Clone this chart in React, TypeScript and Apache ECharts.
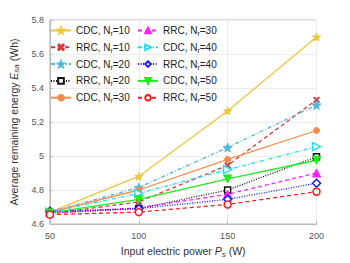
import React, { useEffect, useRef } from "react";
import * as echarts from "echarts";

const xValues = [50, 100, 150, 200];
const cdc10 = [4.67, 4.88, 5.265, 5.7];
const rrc10 = [4.66, 4.73, 4.945, 5.33];
const cdc20 = [4.67, 4.815, 5.05, 5.3];
const rrc20 = [4.665, 4.69, 4.8, 4.995];
const cdc30 = [4.67, 4.8, 4.98, 5.15];
const rrc30 = [4.665, 4.695, 4.775, 4.9];
const cdc40 = [4.67, 4.78, 4.92, 5.055];
const rrc40 = [4.675, 4.69, 4.745, 4.84];
const cdc50 = [4.665, 4.745, 4.865, 4.975];
const rrc50 = [4.655, 4.67, 4.715, 4.79];
const yTicks = ["4.6", "4.8", "5", "5.2", "5.4", "5.6", "5.8"];

const STAR =
  "path://M50,0 L61,35 L98,35 L68,57 L79,91 L50,70 L21,91 L32,57 L2,35 L39,35 Z";
const XMARK =
  "path://M0,15 L15,0 L50,35 L85,0 L100,15 L65,50 L100,85 L85,100 L50,65 L15,100 L0,85 L35,50 Z";

type Def = {
  name: string;
  data: number[];
  color: string;
  type: "solid" | "dashed" | "dotted" | number[];
  symbol: string;
  size: number;
  rotate?: number;
  empty?: boolean;
};

const defs: Def[] = [
  { name: "CDC|10", data: cdc10, color: "#EDC73A", type: "solid", symbol: STAR, size: 8 },
  { name: "RRC|10", data: rrc10, color: "#D63A3A", type: [4, 3], symbol: XMARK, size: 6 },
  { name: "CDC|20", data: cdc20, color: "#4DB8DD", type: [4, 2, 1, 2], symbol: STAR, size: 9 },
  { name: "RRC|20", data: rrc20, color: "#111111", type: [1, 1.5], symbol: "rect", size: 6, empty: true },
  { name: "CDC|30", data: cdc30, color: "#F98B4E", type: "solid", symbol: "circle", size: 6 },
  { name: "RRC|30", data: rrc30, color: "#FF1FFF", type: [4, 3], symbol: "triangle", size: 8 },
  { name: "CDC|40", data: cdc40, color: "#22DDEE", type: [4, 2, 1, 2], symbol: "triangle", size: 8, rotate: -90, empty: true },
  { name: "RRC|40", data: rrc40, color: "#1A1AFF", type: [1, 1.5], symbol: "diamond", size: 8, empty: true },
  { name: "CDC|50", data: cdc50, color: "#1EEE1E", type: "solid", symbol: "triangle", size: 8, rotate: 180 },
  { name: "RRC|50", data: rrc50, color: "#FF1A1A", type: [4, 3], symbol: "circle", size: 7, empty: true },
];

const FONT = "Liberation Sans, Arial, Helvetica, sans-serif";

export default function App() {
  const ref = useRef<HTMLDivElement>(null);
  useEffect(() => {
    if (!ref.current) return;
    document.body.style.margin = "0";
    const chart = echarts.init(ref.current, null, { renderer: "svg" });
    const series = defs.map((d) => ({
      name: d.name,
      type: "line",
      data: d.data.map((v, i) => [xValues[i], v]),
      symbol: d.symbol,
      symbolSize: d.size,
      symbolRotate: d.rotate ?? 0,
      showAllSymbol: true,
      lineStyle: { color: d.color, width: 1.3, type: d.type },
      itemStyle: d.empty
        ? { color: "#ffffff", borderColor: d.color, borderWidth: 1.5 }
        : { color: d.color, borderColor: d.color, borderWidth: 1 },
      emphasis: { disabled: true },
    }));
    const legendFormatter = (name: string) => {
      const [a, b] = name.split("|");
      return `{t|${a}, N}{s|r}{t|=${b}}`;
    };
    const legendText = {
      fontFamily: FONT,
      color: "#222",
      rich: {
        t: { fontSize: 10, fontFamily: FONT, color: "#222", lineHeight: 13, verticalAlign: "middle" },
        s: { fontSize: 7, fontFamily: FONT, color: "#222", lineHeight: 13, padding: [7, 0, 0, 0], verticalAlign: "bottom" },
      },
    };
    const legendCommon = {
      orient: "vertical",
      top: 21,
      itemWidth: 20,
      itemHeight: 7,
      itemGap: 2.8,
      padding: [2, 0, 0, 0],
      formatter: legendFormatter,
      textStyle: legendText,
      selectedMode: false,
    };
    const option: any = {
      animation: false,
      backgroundColor: "#ffffff",
      grid: {
        left: 45.5,
        right: 33.5,
        top: 20,
        bottom: 31,
        show: true,
        borderColor: "#b8b8b8",
        borderWidth: 1,
      },
      legend: [
        { ...legendCommon, data: defs.slice(0, 5).map((d) => d.name), left: 50 },
        { ...legendCommon, data: defs.slice(5).map((d) => d.name), left: 137 },
      ],
      xAxis: {
        type: "value",
        min: 50,
        max: 200,
        interval: 50,
        name: "Input electric power {i|P}{s|s} (W)",
        nameLocation: "middle",
        nameGap: 20,
        nameTextStyle: {
          fontFamily: FONT,
          fontSize: 10.5,
          color: "#333",
          rich: {
            i: { fontStyle: "italic", fontSize: 10.5, fontFamily: FONT, color: "#333" },
            s: { fontStyle: "italic", fontSize: 8, fontFamily: FONT, color: "#333", padding: [6, 0, 0, 0] },
          },
        },
        axisLine: { lineStyle: { color: "#b8b8b8" } },
        axisTick: { inside: true, length: 3, lineStyle: { color: "#b8b8b8" } },
        axisLabel: { fontFamily: FONT, fontSize: 9, color: "#555", margin: 7 },
        splitLine: { show: true, lineStyle: { color: "#ececec", width: 1 } },
      },
      yAxis: {
        type: "value",
        min: 4.6,
        max: 5.8,
        interval: 0.2,
        name: "Average remaining energy {i|E}{s|sa} (Wh)",
        nameLocation: "middle",
        nameGap: 27,
        nameTextStyle: {
          fontFamily: FONT,
          fontSize: 10.5,
          color: "#333",
          rich: {
            i: { fontStyle: "italic", fontSize: 10.5, fontFamily: FONT, color: "#333" },
            s: { fontStyle: "italic", fontSize: 8, fontFamily: FONT, color: "#333", padding: [6, 0, 0, 0] },
          },
        },
        axisLine: { lineStyle: { color: "#b8b8b8" } },
        axisTick: { inside: true, length: 3, lineStyle: { color: "#b8b8b8" } },
        axisLabel: {
          fontFamily: FONT,
          fontSize: 9,
          color: "#555",
          margin: 6,
          formatter: (v: number) => yTicks[Math.round((v - 4.6) / 0.2)] ?? "",
        },
        splitLine: { show: true, lineStyle: { color: "#ececec", width: 1 } },
      },
      series,
    };
    chart.setOption(option);
    return () => chart.dispose();
  }, []);
  return <div ref={ref} style={{ width: 350, height: 263, margin: 0 }} />;
}
